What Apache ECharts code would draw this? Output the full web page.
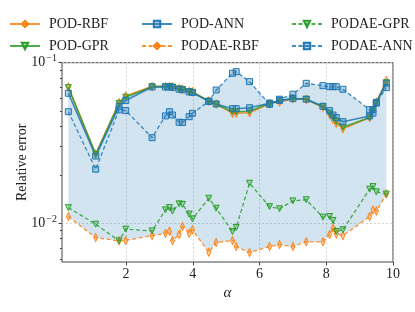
<!DOCTYPE html>
<html><head><meta charset="utf-8">
<script src="https://cdn.jsdelivr.net/npm/echarts@6/dist/echarts.min.js"></script>
<style>html,body{margin:0;padding:0;background:#fff}#c{width:415px;height:312px}</style>
</head><body><div id="c"></div>
<script>
const alpha = [0.27,1.09,1.79,1.99,2.78,3.18,3.3,3.39,3.59,3.69,3.89,3.99,4.48,4.7,5.19,5.3,5.7,6.3,6.6,7.0,7.4,7.9,8.1,8.2,8.3,8.5,9.3,9.4,9.5,9.8];
const podRBF = [0.0705,0.0270,0.0565,0.0620,0.0712,0.0712,0.0712,0.0708,0.0690,0.0684,0.0664,0.0658,0.0578,0.0552,0.0485,0.0485,0.0488,0.0555,0.0570,0.0597,0.0590,0.0528,0.0478,0.0445,0.0420,0.0388,0.0455,0.0508,0.0566,0.0775];
const podGPR = [0.0700,0.0268,0.0558,0.0610,0.0709,0.0709,0.0709,0.0705,0.0686,0.0680,0.0660,0.0654,0.0575,0.0551,0.0495,0.0495,0.0498,0.0559,0.0580,0.0597,0.0592,0.0532,0.0484,0.0457,0.0430,0.0396,0.0456,0.0508,0.0564,0.0750];
const podANN = [0.0645,0.0262,0.0535,0.0582,0.0706,0.0706,0.0706,0.0702,0.0684,0.0678,0.0658,0.0652,0.0575,0.0553,0.0517,0.0517,0.0524,0.0559,0.0582,0.0597,0.0592,0.0535,0.0503,0.0472,0.0455,0.0429,0.0466,0.0510,0.0566,0.0745];
const podaeRBF = [0.0110,0.00813,0.00776,0.0078,0.00837,0.00866,0.00895,0.00776,0.0085,0.00953,0.00866,0.0091,0.0066,0.00757,0.0078,0.00715,0.00657,0.00715,0.00736,0.00715,0.00765,0.00765,0.0085,0.0093,0.00857,0.00837,0.0110,0.0121,0.0119,0.0152];
const podaeGPR = [0.0125,0.00986,0.00776,0.00918,0.00895,0.0121,0.0125,0.0119,0.0132,0.0131,0.0114,0.01064,0.0143,0.0124,0.00887,0.0094,0.01775,0.01268,0.0123,0.01377,0.0140,0.0109,0.0110,0.0104,0.00887,0.0091,0.0163,0.0169,0.01567,0.0152];
const podaeANN = [0.0495,0.0217,0.0508,0.0503,0.0341,0.0466,0.0495,0.0472,0.0426,0.0424,0.0461,0.0484,0.0575,0.0676,0.0859,0.0879,0.0762,0.0551,0.0592,0.0636,0.0744,0.0719,0.0709,0.0709,0.0709,0.0683,0.0510,0.0485,0.0560,0.0700];
const xTicks = [2,4,6,8,10];
const yMajor = [0.01,0.1];
const yMinor = [0.006,0.007,0.008,0.009,0.02,0.03,0.04,0.05,0.06,0.07,0.08,0.09];

const all = [podRBF,podGPR,podANN,podaeRBF,podaeGPR,podaeANN];
const bandData = alpha.map((a,i)=>[a, Math.min(...all.map(s=>s[i])), Math.max(...all.map(s=>s[i]))]);
const pair = arr => alpha.map((a,i)=>[a,arr[i]]);

const C0='#1f77b4', C1='#ff7f0e', C2='#2ca02c';
const FONT='Liberation Serif';
function mk(name, data, color, dashed, symbol, size, rot){
  return {name, type:'line', data, z:3,
    lineStyle:{color, width: dashed?1.3:1.6, type: dashed?[4,2.5]:'solid', opacity:0.85},
    itemStyle:{color: color+'55', borderColor: color, borderWidth:1},
    symbol, symbolSize:size, symbolRotate: rot||0, showSymbol:true};
}
const chart = echarts.init(document.getElementById('c'), null, {renderer:'canvas'});
const legendCommon = {orient:'vertical', itemWidth:30, itemHeight:8, itemGap:8, top:12,
  textStyle:{fontFamily:FONT, fontSize:14, color:'#222', lineHeight:14, padding:[0,0,0,4]}};
chart.setOption({
  animation:false,
  grid:{left:62, right:22, top:62.7, bottom:50, show:true, borderColor:'#444', borderWidth:1, backgroundColor:'transparent'},
  legend:[
    Object.assign({left:4, data:['POD-RBF','POD-GPR']}, legendCommon),
    Object.assign({left:136, data:['POD-ANN','PODAE-RBF']}, legendCommon),
    Object.assign({left:286, data:['PODAE-GPR','PODAE-ANN']}, legendCommon)
  ],
  xAxis:{type:'value', min:0.08, max:10,
    name:'α', nameLocation:'middle', nameGap:21,
    nameTextStyle:{fontFamily:FONT, fontStyle:'italic', fontSize:15, color:'#222'},
    axisLine:{show:false},
    axisTick:{show:true, customValues:xTicks, length:3.5, lineStyle:{color:'#444'}},
    axisLabel:{customValues:xTicks, fontFamily:FONT, fontSize:14, color:'#222', margin:5},
    splitLine:{show:true, lineStyle:{color:'#c8c8c8', type:[2,2], width:0.8}}},
  yAxis:[{type:'log', logBase:10, min:0.00573, max:0.1,
    name:'Relative error', nameLocation:'middle', nameGap:33, nameMoveOverlap:false,
    nameTextStyle:{fontFamily:FONT, fontSize:14, color:'#222'},
    axisLine:{show:false},
    axisTick:{show:true, customValues:yMajor, length:3.5, lineStyle:{color:'#444'}},
    axisLabel:{customValues:yMajor, margin:5,
      formatter:v=>'{b|10}{s|−'+Math.round(-Math.log10(v))+'}',
      rich:{b:{fontFamily:FONT, fontSize:14, color:'#222'}, s:{fontFamily:FONT, fontSize:10, color:'#222', padding:[0,0,8,1]}}},
    splitLine:{show:true, lineStyle:{color:'#c8c8c8', type:[2,2], width:0.8}}},
   {type:'log', logBase:10, min:0.00573, max:0.1, position:'left',
    axisLine:{show:false}, axisLabel:{show:false}, splitLine:{show:false},
    axisTick:{show:true, customValues:yMinor, length:2, lineStyle:{color:'#444'}}}],
  series:[
    {name:'band', type:'custom', data:bandData, z:1, silent:true, clip:true,
      encode:{x:0, y:[1,2]},
      renderItem:(params, api)=>{
        if (params.dataIndex !== 0) return null;
        const top = bandData.map(d=>api.coord([d[0], d[2]]));
        const bot = bandData.map(d=>api.coord([d[0], d[1]])).reverse();
        return {type:'polygon', shape:{points: top.concat(bot)}, style:{fill:'rgba(31,119,180,0.2)', stroke:'none'}};
      }},
    mk('POD-RBF', pair(podRBF), C1, false, 'diamond', [4,8]),
    mk('POD-GPR', pair(podGPR), C2, false, 'triangle', 6, 180),
    mk('POD-ANN', pair(podANN), C0, false, 'rect', 6),
    mk('PODAE-RBF', pair(podaeRBF), C1, true, 'diamond', [4,8]),
    mk('PODAE-GPR', pair(podaeGPR), C2, true, 'triangle', 6, 180),
    mk('PODAE-ANN', pair(podaeANN), C0, true, 'rect', 6)
  ]
});
</script></body></html>
